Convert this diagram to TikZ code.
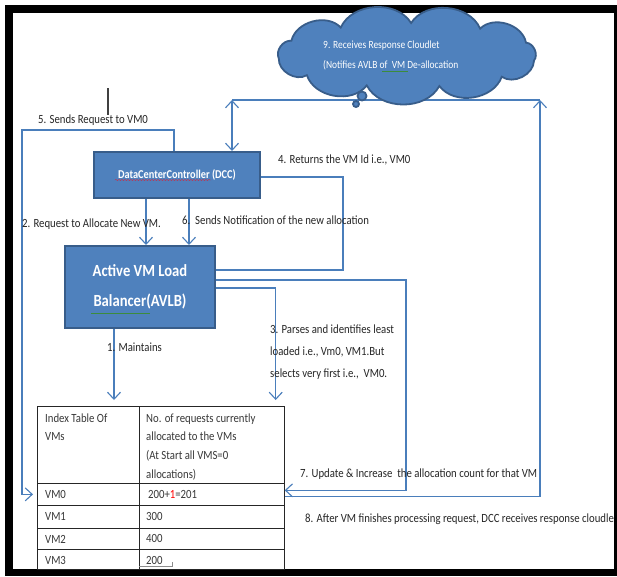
\documentclass[tikz,border=0pt]{standalone}
\usepackage{fontspec}
\setmainfont{Carlito}[FakeStretch=0.86]
\usetikzlibrary{arrows.meta,decorations.pathmorphing}

\definecolor{vmblue}{HTML}{4F81BD}
\definecolor{vmedge}{HTML}{385D8A}
\definecolor{wireblue}{HTML}{4A7EBB}
\definecolor{spellred}{HTML}{C0314D}
\definecolor{spellgreen}{HTML}{3C8C3C}

\tikzset{
  unitbox/.style={draw=vmedge, line width=2pt, fill=vmblue, text=white, inner sep=0pt},
  wire/.style={draw=wireblue, line width=1.1pt},
  barb/.style={-{Straight Barb[length=7pt,width=13pt]}},
  note/.style={anchor=base west, inner sep=0pt, text=black!85, font=\fontsize{12.5}{15}\selectfont},
  celltext/.style={anchor=base west, inner sep=0pt, text=black!78, font=\fontsize{12.5}{15}\selectfont},
  cellbox/.style={draw=black!85, line width=0.7pt, anchor=north west, inner sep=0pt},
  puff/.style={fill=vmblue, draw=vmedge, line width=1.8pt},
}

\begin{document}
\begin{tikzpicture}[x=1pt, y=-1pt]
\useasboundingbox (0,0) rectangle (617,576);
\fill[black] (5,5) rectangle (617,576);
\fill[white] (13,13) rectangle (614,569);

% the two units
\node[unitbox, minimum width=166pt, minimum height=46pt, font=\bfseries\fontsize{12}{14}\selectfont] (dcc) at (177,175) {DataCenterController (DCC)};
\node[unitbox, minimum width=150pt, minimum height=82pt, align=center, font=\bfseries\fontsize{17}{30}\selectfont] (avlb) at (140,287) {Active VM Load\\Balancer(AVLB)};
\draw[spellred, decorate, decoration={snake, amplitude=0.6pt, segment length=3pt}] ([shift={(-62,5)}]dcc.center) -- ([shift={(34,5)}]dcc.center);
\draw[spellgreen, line width=0.8pt] ([shift={(-49,26)}]avlb.center) -- ([shift={(10,26)}]avlb.center);

% index table
\node[cellbox, minimum width=102pt, minimum height=77pt] (headL) at (37,406) {};
\node[cellbox, minimum width=145pt, minimum height=77pt] (headR) at (139,406) {};
\foreach \vm/\top/\ht in {0/483/22, 1/505/23, 2/528/21, 3/549/20} {
  \node[cellbox, minimum width=102pt, minimum height=\ht pt] (row\vm) at (37,\top) {};
  \node[cellbox, minimum width=145pt, minimum height=\ht pt] (cnt\vm) at (139,\top) {};
  \node[celltext] (vmname\vm) at (45,\top+15) {VM\vm};
}
\node[celltext] (hL1) at (45,422) {Index Table Of};
\node[celltext] (hL2) at (45,440) {VMs};
\foreach \t [count=\i] in {{No. of requests currently}, {allocated to the VMs}, {(At Start all VMS=0}, {allocations)}}
  \node[celltext] (hR\i) at (146,403.3+18.7*\i) {\t};
\node[celltext] (val0) at (148,498) {200+\textcolor{red}{1}=201};
\node[celltext] (val1) at (146,520) {300};
\node[celltext] (val2) at (146,542) {400};
\node[celltext] (val3) at (146,564) {200};
\draw[black!45, line width=0.6pt] (139,566) -- (172,566) -- (172,562);

% connectors
\coordinate (sendbend) at (22,130);
\coordinate (idbend) at (343,270);
\coordinate (countbend) at (406,280);
\coordinate (respup) at (540,100);
\coordinate (respleft) at (232,100);
\draw[wire, barb] ([xshift=-3pt]dcc.north) |- (sendbend) |- ([xshift=-4pt]row0.west);
\draw[wire, barb] ([xshift=-31pt]dcc.south) -- ([xshift=-31pt]dcc.south |- avlb.north);
\draw[wire, barb] ([xshift=12pt]dcc.south) -- ([xshift=12pt]dcc.south |- avlb.north);
\draw[wire] ([yshift=-2pt]dcc.east) -| (idbend) -- ([yshift=17pt]avlb.east);
\draw[wire, barb] ([yshift=7pt]avlb.east) -| (countbend) |- ([yshift=4pt]cnt0.east);
\draw[wire, barb, shorten >=6pt] ([yshift=-1pt]avlb.east) -| ([xshift=-9pt]headR.north east);
\draw[wire, barb, shorten >=6pt] ([xshift=-26pt]avlb.south) -- ([xshift=-26pt]avlb.south |- headL.north);
\draw[wire, barb] ([yshift=-2pt]cnt0.east) -| (respup);
\draw[wire] (respup) -- (respleft);
\draw[wire, {Straight Barb[length=7pt,width=13pt]}-{Straight Barb[length=7pt,width=13pt]}] (respleft) -- (respleft |- dcc.north);
\draw[black!75, line width=1.2pt] (108,88) -- (108,115);

% response cloud
\coordinate (resp) at (407,55);
\draw[puff] ([shift={(10:129 and 32)}]resp)
  \foreach \k in {1,...,11} { to[bend left=62] ([shift={({10+\k*360/11}:129 and 32)}]resp) } -- cycle;
\node[puff, circle, minimum size=9pt, inner sep=0pt] (puffA) at (362,96) {};
\node[puff, circle, minimum size=6pt, inner sep=0pt] (puffB) at (356,104) {};
\node[anchor=base west, inner sep=0pt, text=white, font=\fontsize{11}{13}\selectfont] (respA) at (323,48) {9. Receives Response Cloudlet};
\node[anchor=base west, inner sep=0pt, text=white, font=\fontsize{11}{13}\selectfont] (respB) at (323,68) {(Notifies AVLB of\ \ VM De-allocation};
\draw[spellgreen, line width=0.8pt] (382,71) -- (408,71);

% step labels
\node[note] (lbl5) at (38,123) {5. Sends Request to VM0};
\node[note] (lbl4) at (278,163) {4. Returns the VM Id i.e., VM0};
\node[note] (lbl2) at (22,227) {2. Request to Allocate New VM.};
\node[note] (lbl6) at (182,224) {6.\ \ Sends Notification of the new allocation};
\node[note] (lbl1) at (107,351) {1. Maintains};
\node[note] (lbl3a) at (270,333) {3. Parses and identifies least};
\node[note] (lbl3b) at (270,355) {loaded i.e., Vm0, VM1.But};
\node[note] (lbl3c) at (270,377) {selects very first i.e.,\ \ VM0.};
\node[note] (lbl7) at (300,477) {7. Update \& Increase\ \ the allocation count for that VM};
\node[note] (lbl8) at (305,522) {8. After VM finishes processing request, DCC receives response cloudle};
\end{tikzpicture}
\end{document}
